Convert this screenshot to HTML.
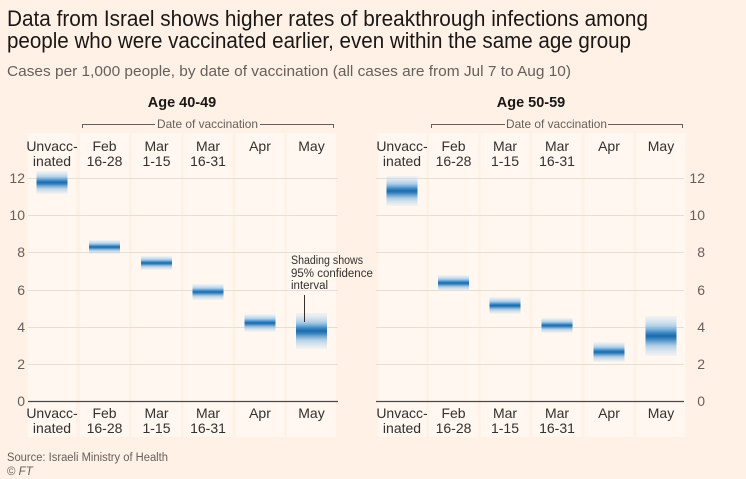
<!DOCTYPE html>
<html><head><meta charset="utf-8"><style>
html,body{margin:0;padding:0;background:#fff1e5;}
svg{display:block;}
text{font-family:"Liberation Sans",sans-serif;}
</style></head><body>
<svg width="746" height="479" viewBox="0 0 746 479" xmlns="http://www.w3.org/2000/svg">
<defs>
<linearGradient id="g" x1="0" y1="0" x2="0" y2="1">
<stop offset="0" stop-color="#d6e7f4" stop-opacity="0.3"/>
<stop offset="0.25" stop-color="#9fc6e5" stop-opacity="0.8"/>
<stop offset="0.42" stop-color="#3d88c4"/>
<stop offset="0.5" stop-color="#1a6aab"/>
<stop offset="0.58" stop-color="#3d88c4"/>
<stop offset="0.75" stop-color="#9fc6e5" stop-opacity="0.8"/>
<stop offset="1" stop-color="#d6e7f4" stop-opacity="0.3"/>
</linearGradient>
</defs>
<rect width="746" height="479" fill="#fff1e5"/>
<!-- Title -->
<text x="7" y="26" font-size="22" fill="#1a1817" textLength="641" lengthAdjust="spacingAndGlyphs">Data from Israel shows higher rates of breakthrough infections among</text>
<text x="7" y="48" font-size="22" fill="#1a1817" textLength="624" lengthAdjust="spacingAndGlyphs">people who were vaccinated earlier, even within the same age group</text>
<text x="7" y="76" font-size="15" fill="#66605c" textLength="564" lengthAdjust="spacingAndGlyphs">Cases per 1,000 people, by date of vaccination (all cases are from Jul 7 to Aug 10)</text>

<!-- LEFT PANEL -->
<g>
<text x="182" y="107" font-size="14.5" font-weight="bold" fill="#1a1817" text-anchor="middle">Age 40-49</text>
<path d="M82.5,128 V124.5 H155 M260,124.5 H333.5 V128" fill="none" stroke="#66605c" stroke-width="1"/>
<text x="207.5" y="128" font-size="12" fill="#66605c" text-anchor="middle" textLength="101" lengthAdjust="spacingAndGlyphs">Date of vaccination</text>
<g fill="#fff7f0">
<rect x="27.5" y="133" width="49" height="304"/>
<rect x="80" y="133" width="49" height="304"/>
<rect x="132" y="133" width="49" height="304"/>
<rect x="183.5" y="133" width="49" height="304"/>
<rect x="235.5" y="133" width="49" height="304"/>
<rect x="287" y="133" width="49" height="304"/>
</g>
<g stroke="#eaddd2" stroke-width="1">
<line x1="28" x2="338" y1="178.5" y2="178.5"/>
<line x1="28" x2="338" y1="215.5" y2="215.5"/>
<line x1="28" x2="338" y1="252.5" y2="252.5"/>
<line x1="28" x2="338" y1="290.5" y2="290.5"/>
<line x1="28" x2="338" y1="327.5" y2="327.5"/>
<line x1="28" x2="338" y1="364.5" y2="364.5"/>
</g>
<line x1="28" x2="338" y1="401.5" y2="401.5" stroke="#4d4845" stroke-width="1.2"/>
<g font-size="14" fill="#66605c" text-anchor="end">
<text x="25" y="183">12</text>
<text x="25" y="220">10</text>
<text x="25" y="257">8</text>
<text x="25" y="295">6</text>
<text x="25" y="332">4</text>
<text x="25" y="369">2</text>
<text x="25" y="406">0</text>
</g>
<g font-size="14" fill="#33302e" text-anchor="middle">
<text x="52" y="151">Unvacc-</text><text x="52" y="166">inated</text>
<text x="104.5" y="151">Feb</text><text x="104.5" y="166">16-28</text>
<text x="156.5" y="151">Mar</text><text x="156.5" y="166">1-15</text>
<text x="208" y="151">Mar</text><text x="208" y="166">16-31</text>
<text x="260" y="151">Apr</text>
<text x="311.5" y="151">May</text>
<text x="52" y="418">Unvacc-</text><text x="52" y="433">inated</text>
<text x="104.5" y="418">Feb</text><text x="104.5" y="433">16-28</text>
<text x="156.5" y="418">Mar</text><text x="156.5" y="433">1-15</text>
<text x="208" y="418">Mar</text><text x="208" y="433">16-31</text>
<text x="260" y="418">Apr</text>
<text x="311.5" y="418">May</text>
</g>
<g fill="url(#g)">
<rect x="36.5" y="171" width="31" height="23"/>
<rect x="89" y="240" width="31" height="14"/>
<rect x="141" y="256" width="31" height="14"/>
<rect x="192.5" y="284" width="31" height="16"/>
<rect x="244.5" y="314" width="31" height="18"/>
<rect x="296" y="313" width="31" height="36"/>
</g>
<g font-size="11.5" fill="#33302e">
<text x="291" y="264" textLength="72" lengthAdjust="spacingAndGlyphs">Shading shows</text>
<text x="291" y="277">95% confidence</text>
<text x="291" y="289">interval</text>
</g>
<line x1="304.5" x2="304.5" y1="295" y2="322" stroke="#33302e" stroke-width="1"/>
</g>

<!-- RIGHT PANEL -->
<g>
<text x="531" y="107" font-size="14.5" font-weight="bold" fill="#1a1817" text-anchor="middle">Age 50-59</text>
<path d="M431.5,128 V124.5 H505 M608,124.5 H682.5 V128" fill="none" stroke="#66605c" stroke-width="1"/>
<text x="556.5" y="128" font-size="12" fill="#66605c" text-anchor="middle" textLength="101" lengthAdjust="spacingAndGlyphs">Date of vaccination</text>
<g fill="#fff7f0">
<rect x="377.5" y="133" width="49" height="304"/>
<rect x="429" y="133" width="49" height="304"/>
<rect x="480.5" y="133" width="49" height="304"/>
<rect x="532.5" y="133" width="49" height="304"/>
<rect x="584.5" y="133" width="49" height="304"/>
<rect x="636.5" y="133" width="49" height="304"/>
</g>
<g stroke="#eaddd2" stroke-width="1">
<line x1="376" x2="684" y1="178.5" y2="178.5"/>
<line x1="376" x2="684" y1="215.5" y2="215.5"/>
<line x1="376" x2="684" y1="252.5" y2="252.5"/>
<line x1="376" x2="684" y1="290.5" y2="290.5"/>
<line x1="376" x2="684" y1="327.5" y2="327.5"/>
<line x1="376" x2="684" y1="364.5" y2="364.5"/>
</g>
<line x1="376" x2="684" y1="401.5" y2="401.5" stroke="#4d4845" stroke-width="1.2"/>
<g font-size="14" fill="#66605c" text-anchor="end">
<text x="705" y="183">12</text>
<text x="705" y="220">10</text>
<text x="705" y="257">8</text>
<text x="705" y="295">6</text>
<text x="705" y="332">4</text>
<text x="705" y="369">2</text>
<text x="705" y="406">0</text>
</g>
<g font-size="14" fill="#33302e" text-anchor="middle">
<text x="402" y="151">Unvacc-</text><text x="402" y="166">inated</text>
<text x="453.5" y="151">Feb</text><text x="453.5" y="166">16-28</text>
<text x="505" y="151">Mar</text><text x="505" y="166">1-15</text>
<text x="557" y="151">Mar</text><text x="557" y="166">16-31</text>
<text x="609" y="151">Apr</text>
<text x="661" y="151">May</text>
<text x="402" y="418">Unvacc-</text><text x="402" y="433">inated</text>
<text x="453.5" y="418">Feb</text><text x="453.5" y="433">16-28</text>
<text x="505" y="418">Mar</text><text x="505" y="433">1-15</text>
<text x="557" y="418">Mar</text><text x="557" y="433">16-31</text>
<text x="609" y="418">Apr</text>
<text x="661" y="418">May</text>
</g>
<g fill="url(#g)">
<rect x="386.5" y="176" width="31" height="30"/>
<rect x="438" y="275" width="31" height="16"/>
<rect x="489.5" y="297" width="31" height="17"/>
<rect x="541.5" y="318" width="31" height="15"/>
<rect x="593.5" y="342" width="31" height="20"/>
<rect x="645.5" y="316" width="31" height="40"/>
</g>
</g>

<!-- Footer -->
<text x="7" y="461" font-size="11.5" fill="#66605c" textLength="161" lengthAdjust="spacingAndGlyphs">Source: Israeli Ministry of Health</text>
<text x="7" y="475" font-size="11.5" fill="#66605c">© <tspan font-style="italic">FT</tspan></text>
</svg>
</body></html>
